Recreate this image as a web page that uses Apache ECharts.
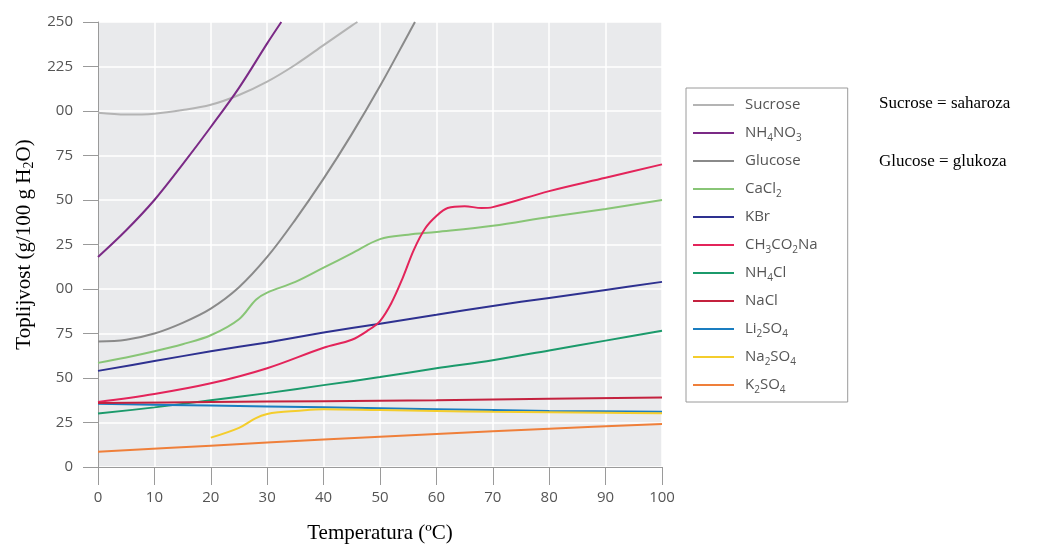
<!DOCTYPE html>
<html>
<head>
<meta charset="utf-8">
<script src="https://cdn.jsdelivr.net/npm/echarts@6/dist/echarts.min.js"></script>
<style>
	html, body { margin: 0; padding: 0; background: #fff; }
	#chart_1 { width: 1046px; height: 547px; }
</style>
</head>
<body>
<div id="chart_1"></div>
<script>
// podaci: [temperatura, topljivost]
var sucrose = [[0, 199], [5, 198], [10, 198.5], [15, 200.5], [20, 203.5], [25, 209], [30, 216.5], [35, 226], [40, 237], [45, 248], [46, 250]];
var nh4no3 = [[0, 118], [5, 133], [10, 150], [15, 170], [20, 191], [25, 213], [30, 238], [32.5, 250]];
var glucose = [[0, 70.5], [5, 71.5], [10, 75], [15, 81], [20, 89], [25, 101], [30, 118], [35, 139], [40, 162], [45, 187], [50, 214], [55, 243], [56.2, 250]];
var cacl2 = [[0, 58.5], [5, 61.5], [10, 65], [15, 69], [20, 74], [25, 83], [28, 94], [30, 98], [35, 104], [40, 112], [45, 120], [50, 128], [55, 130.5], [60, 132], [70, 135.5], [80, 140.5], [90, 145], [100, 150]];
var kbr = [[0, 54], [10, 59.5], [20, 65], [30, 70], [40, 75.5], [50, 80.5], [60, 85.5], [70, 90.5], [80, 95], [90, 99.5], [100, 104]];
var ch3co2na = [[0, 36.5], [10, 41], [20, 47], [30, 55.5], [40, 67], [45, 71.5], [48, 77], [50, 82], [52, 92], [54, 106], [56, 122], [58, 134], [60, 141], [62, 145.5], [65, 146.5], [68, 145.5], [70, 146], [80, 155], [90, 162.5], [100, 170]];
var nh4cl = [[0, 30], [10, 33.5], [20, 37.5], [30, 41.5], [40, 46], [50, 50.5], [60, 55.5], [70, 60], [80, 65.5], [90, 71], [100, 76.5]];
var nacl = [[0, 36], [20, 36.5], [40, 37], [60, 37.5], [80, 38.3], [100, 39]];
var li2so4 = [[0, 35.5], [20, 34.5], [40, 33.5], [60, 32.5], [80, 31.5], [100, 31]];
var na2so4 = [[20, 16.5], [25, 22], [28, 27.5], [30, 29.8], [32, 30.8], [35, 31.5], [40, 32.5], [50, 32], [60, 31.5], [70, 31], [80, 30.8], [90, 30.5], [100, 30.2]];
var k2so4 = [[0, 8.5], [20, 12], [40, 15.5], [60, 18.5], [80, 21.5], [100, 24.2]];

var seriesNames = ['Sucrose', 'NH4NO3', 'Glucose', 'CaCl2', 'KBr', 'CH3CO2Na', 'NH4Cl', 'NaCl', 'Li2SO4', 'Na2SO4', 'K2SO4'];
var seriesData = [sucrose, nh4no3, glucose, cacl2, kbr, ch3co2na, nh4cl, nacl, li2so4, na2so4, k2so4];
var seriesColors = ['#b4b4b4', '#7b2a86', '#8a8a8a', '#88c576', '#2e3190', '#e3245a', '#1b9a6b', '#c4213e', '#1a7dc0', '#f4cd2c', '#ef7f3a'];

var xTicks = [0, 100, 10];
var yTickLabels = ['0', '25', '50', '75', '00', '25', '50', '75', '00', '225', '250'];

var myChart = echarts.init(document.getElementById('chart_1'));

var series = [];
for (var i = 0; i < seriesNames.length; i++) {
	series.push({
		name: seriesNames[i],
		type: 'line',
		data: seriesData[i],
		smooth: 0.35,
		symbol: 'none',
		lineStyle: { width: 2, color: seriesColors[i] },
		itemStyle: { color: seriesColors[i] },
		z: (seriesNames[i] === 'NaCl') ? 5 : 2
	});
}

var option = {
	animation: false,
	grid: {
		left: 98,
		right: 384,
		top: 22,
		bottom: 80,
		outerBoundsMode: 'none',
		containLabel: false,
		show: true,
		backgroundColor: '#e9eaec',
		borderWidth: 0
	},
	legend: {
		orient: 'vertical',
		left: 686,
		top: 88,
		padding: [7, 30, 7, 7],
		itemGap: 8,
		itemWidth: 41,
		itemHeight: 2,
		icon: 'rect',
		borderColor: '#9a9a9a',
		borderWidth: 1,
		data: seriesNames,
		formatter: function(name) {
			// brojevi u formulama kao indeksi
			return name.replace(/(\d)/g, '{s|$1}');
		},
		textStyle: {
			color: '#555',
			fontSize: 15,
			fontFamily: 'Open Sans',
			lineHeight: 20,
			padding: [0, 0, 0, 6],
			rich: {
				s: {
					color: '#555',
					fontSize: 10,
					fontFamily: 'Open Sans',
					lineHeight: 10,
					verticalAlign: 'bottom'
				}
			}
		}
	},
	xAxis: {
		type: 'value',
		min: xTicks[0],
		max: xTicks[1],
		interval: xTicks[2],
		name: 'Temperatura (ºC)',
		nameLocation: 'middle',
		nameGap: 56,
		nameTextStyle: {
			color: '#000',
			fontSize: 21,
			fontFamily: 'Liberation Serif'
		},
		axisLine: { show: true, lineStyle: { color: '#9a9a9a', width: 1 } },
		axisTick: { show: true, length: 18, lineStyle: { color: '#9a9a9a' } },
		axisLabel: {
			color: '#555',
			fontSize: 15,
			fontFamily: 'Open Sans',
			margin: 23
		},
		splitLine: { show: true, lineStyle: { color: '#ffffff', width: 1.5 } }
	},
	yAxis: {
		type: 'value',
		min: 0,
		max: 250,
		interval: 25,
		name: '{n|Toplijvost (g/100 g H}{s|2}{n|O)}',
		nameLocation: 'middle',
		nameGap: 59,
		nameRotate: 90,
		nameTextStyle: {
			color: '#000',
			fontSize: 21,
			fontFamily: 'Liberation Serif',
			rich: {
				n: { color: '#000', fontSize: 21, fontFamily: 'Liberation Serif', lineHeight: 24 },
				s: { color: '#000', fontSize: 14, fontFamily: 'Liberation Serif', lineHeight: 14, verticalAlign: 'bottom' }
			}
		},
		axisLine: { show: true, lineStyle: { color: '#9a9a9a', width: 1 } },
		axisTick: { show: true, length: 15, lineStyle: { color: '#9a9a9a' } },
		axisLabel: {
			color: '#555',
			fontSize: 15,
			fontFamily: 'Open Sans',
			margin: 25,
			formatter: function(v) {
				return yTickLabels[Math.round(v / 25)];
			}
		},
		splitLine: { show: true, lineStyle: { color: '#ffffff', width: 1.5 } }
	},
	graphic: [{
		type: 'text',
		left: 879,
		top: 95,
		style: { text: 'Sucrose = saharoza', fill: '#000', font: '17px "Liberation Serif"' }
	}, {
		type: 'text',
		left: 879,
		top: 153,
		style: { text: 'Glucose = glukoza', fill: '#000', font: '17px "Liberation Serif"' }
	}],
	series: series
};

myChart.setOption(option);
window.addEventListener("resize", function() {
	myChart.resize();
});
</script>
</body>
</html>
